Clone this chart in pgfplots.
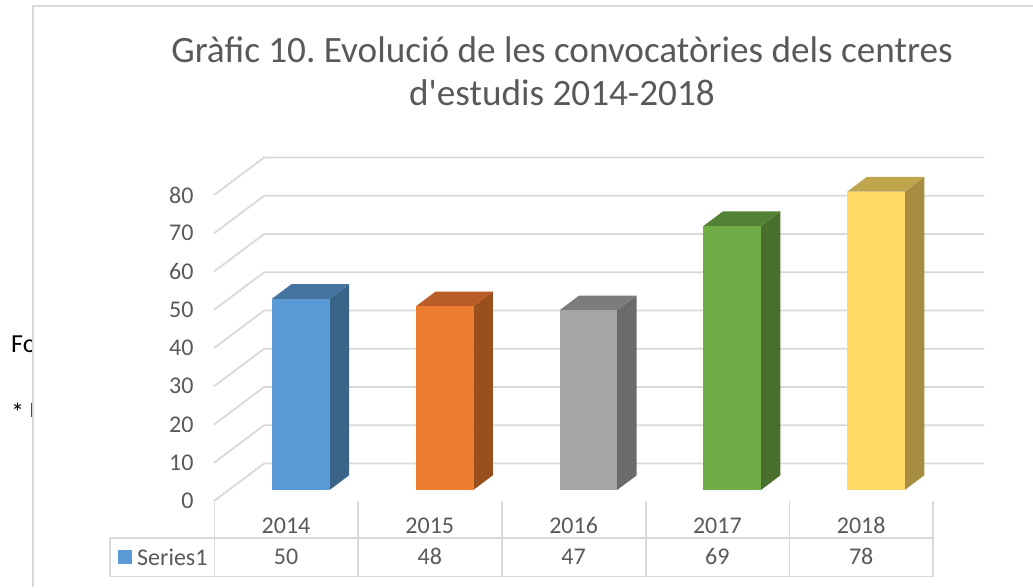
\documentclass[border=0pt]{standalone}
\usepackage{fontspec}
\setmainfont{Carlito}
\usepackage{pgfplots}
\pgfplotsset{compat=1.18}
\definecolor{txt}{HTML}{595959}
\definecolor{grd}{HTML}{D9D9D9}
\definecolor{fa}{HTML}{5B9BD5}\definecolor{sa}{HTML}{3A6489}\definecolor{ta}{HTML}{44749F}
\definecolor{fb}{HTML}{ED7D31}\definecolor{sb}{HTML}{9A4F1E}\definecolor{tb}{HTML}{B85D25}
\definecolor{fc}{HTML}{A5A5A5}\definecolor{sc}{HTML}{6B6B6B}\definecolor{tc}{HTML}{7C7C7C}
\definecolor{fd}{HTML}{70AD47}\definecolor{sd}{HTML}{486F2C}\definecolor{td}{HTML}{548235}
\definecolor{fe}{HTML}{FFD966}\definecolor{se}{HTML}{A68D40}\definecolor{te}{HTML}{BFA64D}
\begin{document}
\frenchspacing
\begin{tikzpicture}[x=1pt,y=1pt]
\useasboundingbox (0,0) rectangle (1033,587);
% clipped text behind the chart frame
\begin{scope}
\clip (0,0) rectangle (33,587);
\node[anchor=base west,inner sep=0,text=black,font=\fontsize{26}{26}\selectfont] at (11,235) {Font};
\node[anchor=base west,inner sep=0,text=black,font=\fontsize{26}{26}\selectfont] at (11,166) {*};
\node[anchor=base west,inner sep=0,text=black,font=\fontsize{22}{22}\selectfont] at (29.5,170) {I};
\end{scope}
% chart frame
\draw[grd,line width=1.8pt] (33,0) -- (33,581) -- (1033,581);
% title
\node[text=txt,font=\fontsize{37.2}{43}\selectfont,align=center,inner sep=0] at (562,515.5)
 {Gràfic 10. Evolució de les convocatòries dels centres\\d\textquotesingle estudis 2014-2018};
% data table
\begin{scope}[grd,line width=1.8pt]
\draw (110,49) -- (933,49);
\draw (110,10.5) -- (933,10.5);
\draw (110,49) -- (110,10.5);
\draw (214.5,86) -- (214.5,10.5);
\draw (358,86) -- (358,10.5);
\draw (502,86) -- (502,10.5);
\draw (646,86) -- (646,10.5);
\draw (789.5,86) -- (789.5,10.5);
\draw (933,86) -- (933,10.5);
\end{scope}
\fill[fa] (118,23) rectangle (132,37);
\node[anchor=base west,inner sep=0,text=txt,font=\fontsize{24}{24}\selectfont] at (137,22) {Series1};
\begin{axis}[
  at={(214.1pt,86pt)},anchor=south west,
  width=719pt,height=306pt,scale only axis,
  xmin=-0.5,xmax=4.5,ymin=0,ymax=80,
  clip=false,
  axis line style={draw=none},
  major tick style={draw=none},
  xtick={0,1,2,3,4},
  xticklabels={2014,2015,2016,2017,2018},
  ytick={0,10,20,30,40,50,60,70,80},
  ticklabel style={text=txt,font=\fontsize{24}{24}\selectfont},
  /pgf/number format/assume math mode=true,
  yticklabel style={anchor=east,xshift=-17pt},
  xticklabel style={anchor=base,yshift=-32pt},
]
% gridlines: front edge, then back wall
\addplot[grd,line width=1.8pt,mark=none] coordinates {(-0.5,0)(-0.152,9.8)(4.854,9.8)};
\addplot[grd,line width=1.8pt,mark=none] coordinates {(-0.5,10)(-0.152,19.8)(4.854,19.8)};
\addplot[grd,line width=1.8pt,mark=none] coordinates {(-0.5,20)(-0.152,29.8)(4.854,29.8)};
\addplot[grd,line width=1.8pt,mark=none] coordinates {(-0.5,30)(-0.152,39.8)(4.854,39.8)};
\addplot[grd,line width=1.8pt,mark=none] coordinates {(-0.5,40)(-0.152,49.8)(4.854,49.8)};
\addplot[grd,line width=1.8pt,mark=none] coordinates {(-0.5,50)(-0.152,59.8)(4.854,59.8)};
\addplot[grd,line width=1.8pt,mark=none] coordinates {(-0.5,60)(-0.152,69.8)(4.854,69.8)};
\addplot[grd,line width=1.8pt,mark=none] coordinates {(-0.5,70)(-0.152,79.8)(4.854,79.8)};
\addplot[grd,line width=1.8pt,mark=none] coordinates {(-0.5,80)(-0.152,89.8)(4.854,89.8)};
% bars: front, right side, top (the scope's shift takes effect twice in an axis)
\begin{scope}[xshift=7.375pt,yshift=5.5pt]
\addplot[fill=sa,draw=none,mark=none] coordinates {(0.2,0)(0.2,50)(0.336,53.84)(0.336,3.84)} -- cycle;
\addplot[fill=ta,draw=none,mark=none] coordinates {(-0.2,50)(0.2,50)(0.336,53.84)(-0.064,53.84)} -- cycle;
\addplot[ybar,bar width=57.5pt,bar shift=0pt,fill=fa,draw=none] coordinates {(0,50)};
\addplot[fill=sb,draw=none,mark=none] coordinates {(1.2,0)(1.2,48)(1.336,51.84)(1.336,3.84)} -- cycle;
\addplot[fill=tb,draw=none,mark=none] coordinates {(0.8,48)(1.2,48)(1.336,51.84)(0.936,51.84)} -- cycle;
\addplot[ybar,bar width=57.5pt,bar shift=0pt,fill=fb,draw=none] coordinates {(1,48)};
\addplot[fill=sc,draw=none,mark=none] coordinates {(2.2,0)(2.2,47)(2.336,50.84)(2.336,3.84)} -- cycle;
\addplot[fill=tc,draw=none,mark=none] coordinates {(1.8,47)(2.2,47)(2.336,50.84)(1.936,50.84)} -- cycle;
\addplot[ybar,bar width=57.5pt,bar shift=0pt,fill=fc,draw=none] coordinates {(2,47)};
\addplot[fill=sd,draw=none,mark=none] coordinates {(3.2,0)(3.2,69)(3.336,72.84)(3.336,3.84)} -- cycle;
\addplot[fill=td,draw=none,mark=none] coordinates {(2.8,69)(3.2,69)(3.336,72.84)(2.936,72.84)} -- cycle;
\addplot[ybar,bar width=57.5pt,bar shift=0pt,fill=fd,draw=none] coordinates {(3,69)};
\addplot[fill=se,draw=none,mark=none] coordinates {(4.2,0)(4.2,78)(4.336,81.84)(4.336,3.84)} -- cycle;
\addplot[fill=te,draw=none,mark=none] coordinates {(3.8,78)(4.2,78)(4.336,81.84)(3.936,81.84)} -- cycle;
\addplot[ybar,bar width=57.5pt,bar shift=0pt,fill=fe,draw=none] coordinates {(4,78)};
\end{scope}
% values row of the data table
\node[anchor=base,text=txt,font=\fontsize{24}{24}\selectfont] at (axis cs:0,-16.7) {50};
\node[anchor=base,text=txt,font=\fontsize{24}{24}\selectfont] at (axis cs:1,-16.7) {48};
\node[anchor=base,text=txt,font=\fontsize{24}{24}\selectfont] at (axis cs:2,-16.7) {47};
\node[anchor=base,text=txt,font=\fontsize{24}{24}\selectfont] at (axis cs:3,-16.7) {69};
\node[anchor=base,text=txt,font=\fontsize{24}{24}\selectfont] at (axis cs:4,-16.7) {78};
\end{axis}
\end{tikzpicture}
\end{document}
